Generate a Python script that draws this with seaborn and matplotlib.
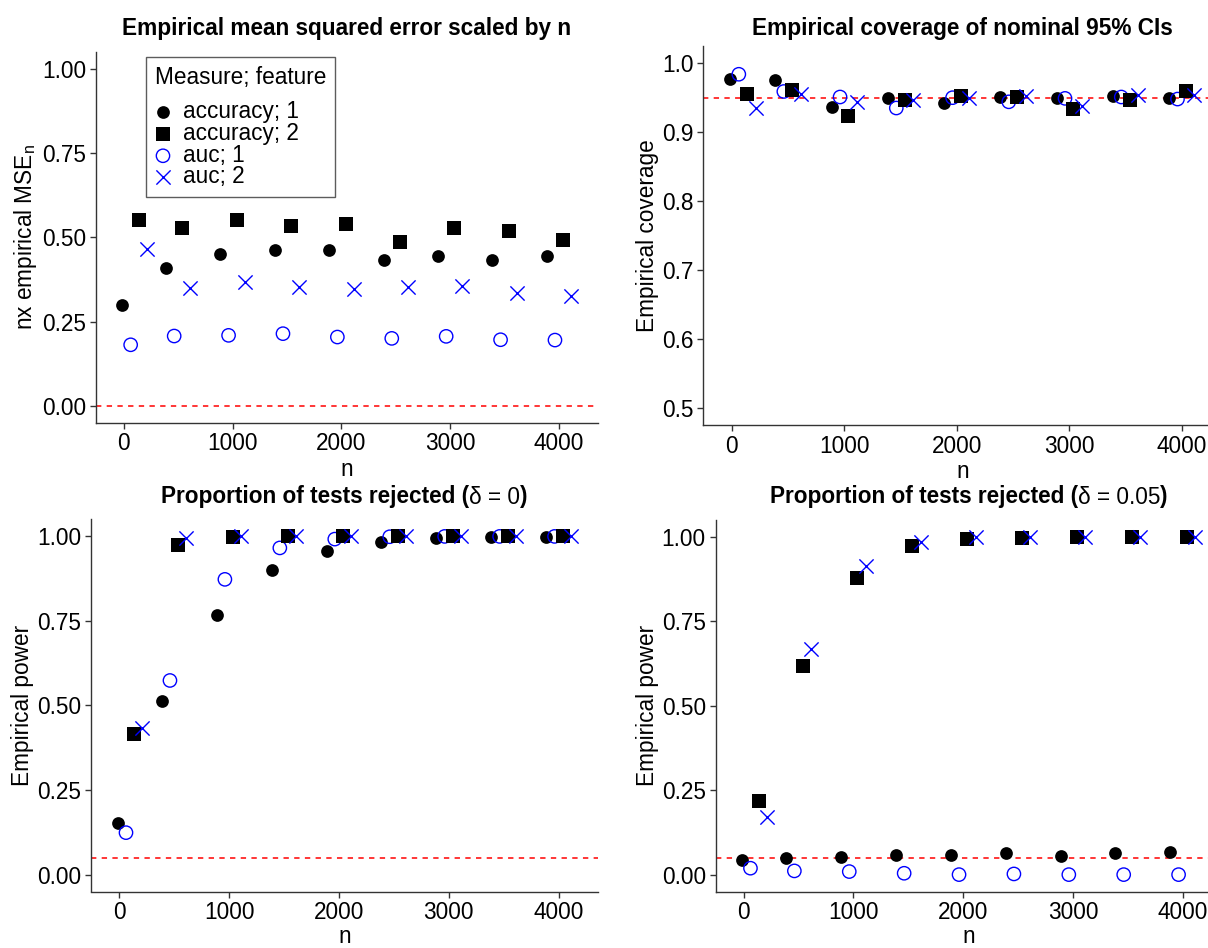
import numpy as np
import pandas as pd
import matplotlib
matplotlib.use("Agg")
import matplotlib.pyplot as plt
import seaborn as sns

# ---------------- data ----------------
n_vals = [100, 500, 1000, 1500, 2000, 2500, 3000, 3500, 4000]
series = ["accuracy; 1", "accuracy; 2", "auc; 1", "auc; 2"]

# Panel 1: n x empirical MSE
mse_acc1 = [0.298, 0.409, 0.450, 0.461, 0.461, 0.432, 0.443, 0.432, 0.443]
mse_acc2 = [0.550, 0.527, 0.551, 0.534, 0.540, 0.485, 0.528, 0.517, 0.492]
mse_auc1 = [0.181, 0.207, 0.209, 0.214, 0.204, 0.200, 0.206, 0.196, 0.195]
mse_auc2 = [0.465, 0.348, 0.368, 0.351, 0.347, 0.351, 0.356, 0.334, 0.326]

# Panel 2: empirical coverage
cov_acc1 = [0.977, 0.975, 0.937, 0.949, 0.942, 0.951, 0.950, 0.953, 0.949]
cov_acc2 = [0.955, 0.961, 0.923, 0.946, 0.953, 0.951, 0.934, 0.947, 0.959]
cov_auc1 = [0.984, 0.959, 0.951, 0.935, 0.950, 0.944, 0.949, 0.951, 0.948]
cov_auc2 = [0.935, 0.955, 0.944, 0.947, 0.950, 0.952, 0.938, 0.954, 0.954]

# Panel 3: power, delta = 0
p0_acc1 = [0.152, 0.512, 0.768, 0.901, 0.957, 0.984, 0.996, 0.997, 0.999]
p0_acc2 = [0.417, 0.975, 0.999, 1.000, 1.000, 1.000, 1.000, 1.000, 1.000]
p0_auc1 = [0.124, 0.574, 0.873, 0.966, 0.992, 0.999, 1.000, 1.000, 1.000]
p0_auc2 = [0.434, 0.995, 1.000, 1.000, 1.000, 1.000, 1.000, 1.000, 1.000]

# Panel 4: power, delta = 0.05
p5_acc1 = [0.042, 0.048, 0.051, 0.058, 0.058, 0.063, 0.056, 0.063, 0.067]
p5_acc2 = [0.218, 0.617, 0.879, 0.974, 0.995, 0.997, 1.000, 1.000, 1.000]
p5_auc1 = [0.019, 0.011, 0.009, 0.004, 0.000, 0.002, 0.000, 0.000, 0.000]
p5_auc2 = [0.170, 0.669, 0.913, 0.985, 0.999, 1.000, 1.000, 1.000, 1.000]

# titles as (text, bold?) pieces
titles = [
    [("Empirical mean squared error scaled by n", True)],
    [("Empirical coverage of nominal 95% CIs", True)],
    [("Proportion of tests rejected (", True), ("\u03b4 = 0", False), (")", True)],
    [("Proportion of tests rejected (", True), ("\u03b4 = 0.05", False), (")", True)],
]
ylabels = ["nx empirical MSE$_{\\mathregular{n}}$", "Empirical coverage",
           "Empirical power", "Empirical power"]
ref_lines = [0.0, 0.95, 0.05, 0.05]
xticks = [0, 1000, 2000, 3000, 4000]

panels = [
    {"accuracy; 1": mse_acc1, "accuracy; 2": mse_acc2, "auc; 1": mse_auc1, "auc; 2": mse_auc2},
    {"accuracy; 1": cov_acc1, "accuracy; 2": cov_acc2, "auc; 1": cov_auc1, "auc; 2": cov_auc2},
    {"accuracy; 1": p0_acc1, "accuracy; 2": p0_acc2, "auc; 1": p0_auc1, "auc; 2": p0_auc2},
    {"accuracy; 1": p5_acc1, "accuracy; 2": p5_acc2, "auc; 1": p5_auc1, "auc; 2": p5_auc2},
]

# ---------------- style ----------------
sns.set_style("ticks")
plt.rcParams["font.family"] = ["Liberation Sans", "DejaVu Sans"]
plt.rcParams["mathtext.fontset"] = "custom"
plt.rcParams["mathtext.rm"] = "Liberation Sans"
plt.rcParams["mathtext.it"] = "Liberation Sans:italic"
plt.rcParams["mathtext.bf"] = "Liberation Sans:bold"
plt.rcParams["text.color"] = "black"
plt.rcParams["axes.labelcolor"] = "black"

FS = 16.3
W, H = 1208, 948
fig = plt.figure(figsize=(W / 100, H / 100), dpi=100)

def box(l, r, t, b):
    return [l / W, 1 - b / H, (r - l) / W, (b - t) / H]

axes_px = [(96, 598, 51.7, 422.7), (703, 1222, 46, 425),
           (91, 598, 519.5, 891.5), (715.5, 1222, 520, 891.5)]

# dodge order and styles
dodge_order = ["accuracy; 1", "auc; 1", "accuracy; 2", "auc; 2"]
dodge_width = 300
styles = {
    "accuracy; 1": dict(marker="o", color="black", s=84, linewidth=0),
    "accuracy; 2": dict(marker="s", color="black", s=88, linewidth=0),
    "auc; 1": dict(marker="o", facecolor="none", edgecolor="blue", s=92, linewidth=1.0),
    "auc; 2": dict(marker="x", color="blue", s=105, linewidth=1.0),
}

axes = []
for i, (vals, px) in enumerate(zip(panels, axes_px)):
    ax = fig.add_axes(box(*px))
    axes.append(ax)
    ax.axhline(ref_lines[i], color="red", linestyle=(0, (3.5, 3.5)), linewidth=1.1, zorder=1)
    k = len(dodge_order)
    for j, name in enumerate(dodge_order):
        off = (j - (k - 1) / 2) * dodge_width / k
        df = pd.DataFrame({"x": np.array(n_vals) + off, "y": vals[name]})
        sns.scatterplot(data=df, x="x", y="y", ax=ax, label=name, zorder=3,
                        legend=False, **styles[name])
    ax.set_xlim(-256, 4358)
    if i == 1:
        yt = [0.5, 0.6, 0.7, 0.8, 0.9, 1.0]
        ax.set_ylim(0.475, 1.025)
        ax.set_yticks(yt)
        ax.set_yticklabels([f"{v:.1f}" for v in yt])
    else:
        yt = [0, 0.25, 0.5, 0.75, 1.0]
        ax.set_ylim(-0.05, 1.05)
        ax.set_yticks(yt)
        ax.set_yticklabels([f"{v:.2f}" for v in yt])
    ax.set_xticks(xticks)
    ax.set_xticklabels([str(v) for v in xticks])
    ax.set_xlabel("n", fontsize=FS, labelpad=2 if i < 2 else 0.5)
    ax.set_ylabel(ylabels[i], fontsize=FS, labelpad=2)
    ax.tick_params(axis="both", labelsize=FS, length=4, width=1.0, color="#333333",
                   labelcolor="black", pad=3)
    for sp in ["top", "right"]:
        ax.spines[sp].set_visible(False)
    for sp in ["left", "bottom"]:
        ax.spines[sp].set_color("#333333")
        ax.spines[sp].set_linewidth(1.0)
    ax.grid(False)

# titles centred over each panel (mixed bold / regular pieces)
fig.canvas.draw()
renderer = fig.canvas.get_renderer()
title_y = [28, 28, 497, 497]
for pieces, ty, px in zip(titles, title_y, axes_px):
    cx = (px[0] + px[1]) / 2
    texts = [fig.text(0, 1 - ty / H, s, ha="left", va="center", fontsize=FS,
                      fontweight="bold" if b else "normal") for s, b in pieces]
    widths = [t.get_window_extent(renderer).width for t in texts]
    x0 = cx - sum(widths) / 2
    for t, w in zip(texts, widths):
        t.set_x(x0 / W)
        x0 += w

# legend in first panel
ax1 = axes[0]
handles = {c.get_label(): c for c in ax1.collections}
leg = ax1.legend([handles[s] for s in series], series, title="Measure; feature",
                 loc="upper left", bbox_to_anchor=(0.0996, 0.985), borderaxespad=0,
                 fontsize=FS, title_fontsize=FS, frameon=True, fancybox=False,
                 labelspacing=-0.06, handletextpad=0.55, handlelength=0.7,
                 borderpad=0.4, alignment="left")
leg._legend_box.sep = 8
leg.get_frame().set_edgecolor("#333333")
leg.get_frame().set_linewidth(1.0)

fig.savefig("out.png", dpi=100)
